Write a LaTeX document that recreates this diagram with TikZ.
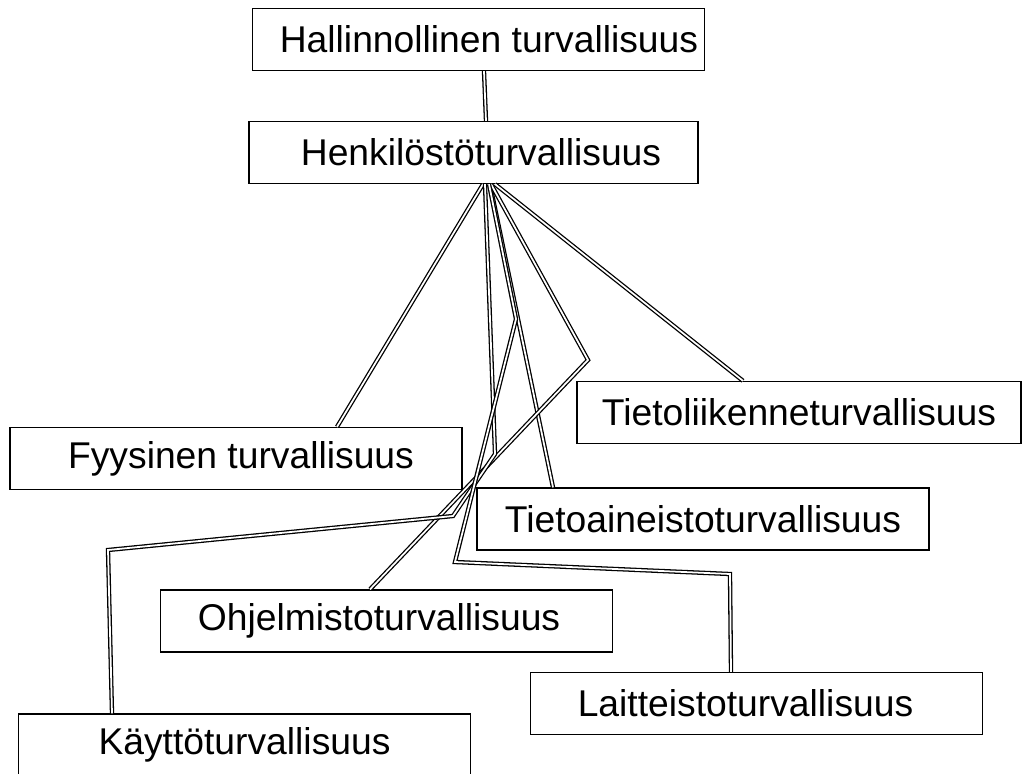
\documentclass[tikz,border=0pt]{standalone}
\usepackage{fontspec}
\setmainfont{Liberation Sans}
\usetikzlibrary{calc}

\begin{document}
\begin{tikzpicture}[x=0.03cm, y=-0.03cm,
    alue/.style={draw, rectangle, line width=1.1pt,
                 minimum width=13.56cm, minimum height=1.86cm,
                 inner sep=0pt, text centered,
                 font=\fontsize{31.8}{38}\selectfont},
    yht/.style={double, line width=1.1pt, double distance=1.5pt,
                line join=miter}
  ]
    \useasboundingbox (0,0) rectangle (1023,773);

    % Laatikot
    \node[alue]                        (hall)  at (478.5,39.5) {\hspace*{0.63cm}Hallinnollinen turvallisuus};
    \node[alue, minimum width=13.47cm] (henk)  at (473.5,152.5) {\hspace*{0.45cm}Henkilöstöturvallisuus};
    \node[alue, minimum width=13.32cm] (tliik) at (799,412.5)  {Tietoliikenneturvallisuus};
    \node[alue]                        (fyys)  at (236,458.5)  {\hspace*{0.3cm}Fyysinen turvallisuus};
    \node[alue]                        (taine) at (703,519)    {Tietoaineistoturvallisuus};
    \node[alue]                        (ohj)   at (386.5,621)  {Ohjelmistoturvallisuus\hspace*{0.45cm}};
    \node[alue]                        (lait)  at (756.5,703.5) {Laitteistoturvallisuus\hspace*{0.66cm}};
    \node[alue]                        (kayt)  at (244.5,745)  {Käyttöturvallisuus};

    % Yhteydet
    \draw[yht] ($(hall.south)+(5.5,0)$) -- ($(henk.north)+(12.5,0)$);
    \draw[yht] ($(henk.south)+(9.5,0)$)  -- ($(fyys.north)+(101,0)$);
    \draw[yht] ($(henk.south)+(21.5,0)$) -- ($(tliik.north)+(-56,0)$);
    \draw[yht] ($(henk.south)+(16.5,0)$) -- ($(taine.north)+(-150,0)$);
    \draw[yht] ($(henk.south)+(17.5,0)$) -- (588,360) -- ($(ohj.north)+(-16.5,0)$);
    \draw[yht] ($(henk.south)+(11.5,0)$) -- (495,454) -- (453,516)
                                         -- (108,550) -- ($(kayt.north)+(-132.5,0)$);
    \draw[yht] ($(henk.south)+(15.5,0)$) -- (516,319) -- (455,562)
                                         -- (730,574) -- ($(lait.north)+(-25.5,0)$);
\end{tikzpicture}
\end{document}
